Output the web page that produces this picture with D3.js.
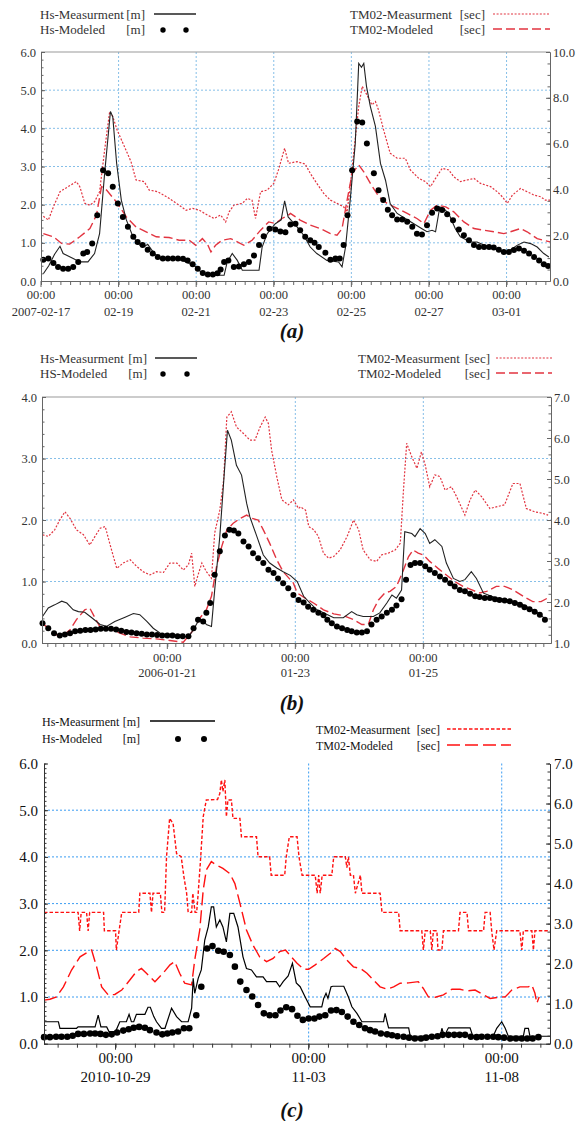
<!DOCTYPE html>
<html>
<head>
<meta charset="utf-8">
<script src="https://cdn.jsdelivr.net/npm/d3@7"></script>
<style>
body { margin: 0; background: #fff; }
svg text { font-family: "Liberation Serif", "Times New Roman", serif; }
</style>
</head>
<body>
<svg id="chart" width="580" height="1121"></svg>
<script>
// ---------- panel (a) : days since 2007-02-17 00:00 ----------
var aTickLabels = ["2007-02-17", "02-19", "02-21", "02-23", "02-25", "02-27", "03-01"];
var aHsTicks = [0, 1, 2, 3, 4, 5, 6];
var aTmTicks = [0, 2, 4, 6, 8, 10];
var aHsMeas = [[0.06,0.19],[0.2,0.4],[0.35,0.7],[0.49,0.91],[0.57,0.72],[0.83,0.59],[1.0,0.5],[1.21,0.5],[1.38,0.72],[1.51,1.24],[1.64,2.82],[1.79,4.44],[1.85,4.3],[1.95,3.08],[2.07,2.12],[2.2,1.6],[2.37,1.16],[2.54,0.94],[2.66,0.9],[2.75,0.96],[2.92,0.72],[3.09,0.59],[3.48,0.59],[3.74,0.5],[4.0,0.37],[4.16,0.19],[4.33,0.15],[4.72,0.15],[4.8,0.5],[4.93,0.72],[5.06,0.54],[5.19,0.28],[5.62,0.28],[5.7,0.89],[5.83,1.24],[6.04,1.5],[6.19,1.6],[6.28,2.1],[6.37,1.68],[6.6,1.42],[6.77,1.2],[6.94,0.89],[7.11,0.72],[7.37,0.54],[7.67,0.5],[7.76,0.37],[7.85,0.89],[7.97,2.12],[8.1,3.6],[8.19,5.7],[8.26,5.6],[8.32,5.7],[8.39,5.1],[8.49,4.57],[8.62,4.05],[8.75,3.08],[8.88,2.64],[9.0,2.03],[9.18,1.77],[9.39,1.64],[9.61,1.5],[9.82,1.37],[9.95,1.29],[10.08,1.33],[10.17,1.29],[10.28,1.94],[10.38,1.9],[10.51,1.77],[10.68,1.37],[10.81,1.16],[11.07,1.02],[11.24,1.02],[11.42,0.94],[11.59,0.89],[11.76,0.81],[12.02,0.76],[12.28,0.94],[12.45,1.02],[12.62,0.98],[12.79,0.89],[12.96,0.72],[13.09,0.63]];
var aHsModel = [[0.06,0.56],[0.19,0.59],[0.32,0.47],[0.44,0.37],[0.57,0.32],[0.7,0.32],[0.83,0.37],[0.96,0.5],[1.09,0.72],[1.19,0.76],[1.32,0.98],[1.45,1.72],[1.6,2.9],[1.73,2.82],[1.85,2.47],[1.98,2.03],[2.11,1.68],[2.24,1.42],[2.38,1.16],[2.49,1.02],[2.62,0.94],[2.75,0.82],[2.88,0.72],[3.01,0.63],[3.14,0.59],[3.27,0.59],[3.4,0.59],[3.53,0.59],[3.66,0.58],[3.78,0.54],[3.91,0.44],[4.04,0.32],[4.17,0.21],[4.3,0.17],[4.43,0.17],[4.55,0.2],[4.63,0.3],[4.72,0.5],[4.83,0.54],[4.97,0.37],[5.1,0.38],[5.23,0.44],[5.36,0.5],[5.49,0.67],[5.62,0.94],[5.74,1.17],[5.89,1.37],[6.04,1.35],[6.17,1.3],[6.3,1.28],[6.43,1.48],[6.56,1.5],[6.68,1.33],[6.81,1.16],[6.94,1.07],[7.05,1.0],[7.16,0.89],[7.33,0.74],[7.46,0.56],[7.59,0.59],[7.7,0.59],[7.8,0.94],[7.9,1.72],[8.02,2.9],[8.15,4.18],[8.28,4.15],[8.4,3.6],[8.58,2.82],[8.7,2.38],[8.82,2.12],[8.94,1.87],[9.05,1.72],[9.18,1.61],[9.31,1.61],[9.44,1.55],[9.57,1.42],[9.69,1.24],[9.82,1.22],[9.95,1.46],[10.08,1.79],[10.21,1.9],[10.34,1.86],[10.47,1.75],[10.62,1.59],[10.77,1.35],[10.9,1.2],[11.03,1.07],[11.16,0.94],[11.29,0.89],[11.42,0.89],[11.55,0.89],[11.67,0.88],[11.8,0.82],[11.93,0.76],[12.06,0.76],[12.19,0.81],[12.32,0.85],[12.45,0.79],[12.58,0.72],[12.71,0.63],[12.84,0.54],[12.96,0.44],[13.07,0.39]];
var aTmMeas = [[0.06,2.83],[0.19,2.66],[0.32,3.24],[0.49,3.9],[0.7,4.12],[0.91,4.34],[1.0,4.12],[1.13,3.39],[1.26,3.31],[1.38,3.46],[1.51,3.9],[1.64,5.72],[1.77,7.4],[1.85,7.18],[1.96,6.6],[2.15,5.87],[2.32,5.21],[2.45,4.41],[2.66,4.34],[2.79,3.97],[3.01,3.9],[3.3,3.61],[3.56,3.31],[3.74,3.09],[3.91,3.17],[4.08,3.09],[4.29,2.88],[4.46,2.73],[4.63,2.88],[4.76,2.58],[4.85,3.02],[4.97,3.31],[5.19,3.39],[5.32,3.61],[5.44,3.53],[5.53,2.73],[5.66,3.9],[5.83,3.97],[6.0,4.26],[6.12,4.85],[6.28,5.8],[6.38,5.14],[6.6,5.21],[6.81,5.11],[6.94,4.7],[7.11,4.26],[7.29,3.82],[7.46,3.53],[7.63,3.39],[7.8,3.24],[7.89,3.02],[7.97,4.12],[8.06,5.58],[8.19,7.62],[8.28,8.5],[8.4,8.13],[8.53,7.69],[8.62,7.84],[8.7,7.47],[8.83,6.6],[9.0,5.58],[9.18,5.36],[9.39,5.36],[9.52,4.85],[9.74,4.48],[9.91,4.34],[10.04,4.12],[10.17,4.48],[10.34,4.92],[10.51,4.85],[10.64,4.55],[10.81,4.34],[10.98,4.41],[11.16,4.48],[11.33,4.26],[11.59,4.12],[11.76,3.9],[11.89,3.68],[12.02,3.39],[12.15,3.75],[12.36,4.04],[12.53,3.9],[12.71,3.75],[12.88,3.68],[13.0,3.53],[13.12,3.53]];
var aTmModel = [[0.06,2.07],[0.32,1.93],[0.53,1.64],[0.74,1.61],[1.0,1.93],[1.26,2.29],[1.43,2.88],[1.56,4.12],[1.69,3.97],[1.94,3.46],[2.2,2.8],[2.45,2.36],[2.71,2.15],[2.97,1.93],[3.3,1.9],[3.56,1.78],[3.82,1.78],[3.99,1.56],[4.16,1.85],[4.29,1.61],[4.38,1.27],[4.5,1.56],[4.67,1.78],[4.89,1.85],[5.06,1.71],[5.23,1.56],[5.44,1.78],[5.66,2.22],[5.87,2.58],[6.04,2.51],[6.21,2.73],[6.38,2.88],[6.43,2.95],[6.68,2.66],[6.94,2.44],[7.2,2.29],[7.46,2.07],[7.63,2.0],[7.76,2.29],[7.89,3.53],[8.02,4.7],[8.19,5.07],[8.32,4.77],[8.49,4.26],[8.71,3.68],[8.92,3.39],[9.18,3.17],[9.44,2.95],[9.69,2.73],[9.87,2.51],[10.04,3.09],[10.21,3.31],[10.43,3.24],[10.64,3.02],[10.9,2.58],[11.16,2.29],[11.42,2.22],[11.67,2.15],[11.93,2.07],[12.1,2.15],[12.36,2.29],[12.53,2.15],[12.79,1.85],[13.12,1.71]];

// ---------- panel (b) : days since 2006-01-21 00:00 ----------
var bTickLabels = ["2006-01-21", "01-23", "01-25"];
var bHsTicks = [0, 1, 2, 3, 4];
var bTmTicks = [1, 2, 3, 4, 5, 6, 7];
var bHsMeas = [[-1.95,0.43],[-1.86,0.57],[-1.76,0.62],[-1.65,0.68],[-1.57,0.65],[-1.47,0.54],[-1.39,0.51],[-1.29,0.5],[-1.18,0.41],[-1.05,0.3],[-0.95,0.27],[-0.82,0.35],[-0.66,0.42],[-0.53,0.48],[-0.43,0.46],[-0.32,0.35],[-0.22,0.24],[-0.11,0.16],[0.04,0.12],[0.2,0.11],[0.33,0.1],[0.41,0.22],[0.48,0.35],[0.56,0.38],[0.61,0.3],[0.69,0.27],[0.74,0.86],[0.82,1.73],[0.89,2.76],[0.94,3.46],[1.0,3.3],[1.08,2.89],[1.16,2.73],[1.24,2.27],[1.29,2.05],[1.4,1.73],[1.5,1.43],[1.6,1.3],[1.71,1.22],[1.81,1.16],[1.92,1.1],[2.03,1.0],[2.13,0.76],[2.23,0.65],[2.34,0.54],[2.44,0.49],[2.6,0.41],[2.75,0.41],[2.88,0.51],[2.96,0.46],[3.06,0.43],[3.22,0.43],[3.32,0.49],[3.43,0.65],[3.51,0.78],[3.58,0.73],[3.66,0.86],[3.71,1.81],[3.82,1.78],[3.87,1.73],[3.95,1.86],[4.03,1.78],[4.1,1.62],[4.18,1.68],[4.29,1.57],[4.36,1.3],[4.47,1.05],[4.57,1.0],[4.65,1.03],[4.75,1.16],[4.83,1.05],[4.94,0.81],[5.14,0.73],[5.35,0.7],[5.56,0.62],[5.77,0.51],[5.92,0.38]];
var bHsModel = [[-1.95,0.32],[-1.86,0.24],[-1.77,0.16],[-1.68,0.12],[-1.6,0.14],[-1.52,0.16],[-1.44,0.19],[-1.36,0.2],[-1.28,0.21],[-1.2,0.21],[-1.12,0.22],[-1.04,0.23],[-0.96,0.23],[-0.88,0.23],[-0.8,0.22],[-0.72,0.2],[-0.64,0.18],[-0.56,0.17],[-0.48,0.16],[-0.4,0.15],[-0.32,0.14],[-0.24,0.14],[-0.16,0.13],[-0.08,0.12],[0.0,0.12],[0.08,0.12],[0.16,0.11],[0.24,0.11],[0.33,0.11],[0.41,0.24],[0.48,0.38],[0.56,0.35],[0.61,0.49],[0.67,0.65],[0.74,1.11],[0.82,1.49],[0.9,1.75],[0.97,1.84],[1.04,1.83],[1.11,1.78],[1.19,1.65],[1.27,1.57],[1.34,1.46],[1.42,1.38],[1.5,1.3],[1.58,1.19],[1.66,1.14],[1.73,1.05],[1.81,0.97],[1.89,0.89],[1.97,0.78],[2.05,0.7],[2.13,0.66],[2.2,0.59],[2.28,0.54],[2.36,0.49],[2.44,0.45],[2.5,0.38],[2.57,0.32],[2.65,0.27],[2.73,0.24],[2.81,0.21],[2.88,0.19],[2.96,0.17],[3.04,0.17],[3.12,0.19],[3.19,0.3],[3.27,0.38],[3.35,0.43],[3.43,0.49],[3.51,0.54],[3.58,0.61],[3.66,0.71],[3.73,1.03],[3.8,1.27],[3.87,1.3],[3.95,1.3],[4.03,1.25],[4.1,1.19],[4.18,1.14],[4.26,1.08],[4.34,1.03],[4.42,0.97],[4.49,0.92],[4.57,0.86],[4.65,0.84],[4.73,0.8],[4.81,0.76],[4.88,0.75],[4.96,0.73],[5.04,0.73],[5.12,0.71],[5.19,0.7],[5.27,0.69],[5.35,0.68],[5.43,0.65],[5.51,0.62],[5.58,0.58],[5.66,0.55],[5.74,0.51],[5.82,0.46],[5.9,0.38]];
var bTmMeas = [[-1.95,3.64],[-1.86,3.6],[-1.76,3.76],[-1.68,4.0],[-1.6,4.2],[-1.52,4.04],[-1.42,3.76],[-1.31,3.64],[-1.21,3.39],[-1.13,3.6],[-1.05,3.8],[-0.97,3.84],[-0.9,3.43],[-0.79,2.82],[-0.69,2.95],[-0.58,3.03],[-0.48,2.87],[-0.38,2.74],[-0.27,2.66],[-0.17,2.74],[-0.06,2.72],[0.04,2.95],[0.15,2.95],[0.25,2.78],[0.33,2.91],[0.38,3.19],[0.43,2.38],[0.48,2.66],[0.54,2.95],[0.61,2.74],[0.69,2.58],[0.74,3.68],[0.82,4.24],[0.88,4.97],[0.93,6.51],[1.0,6.64],[1.08,6.27],[1.19,6.11],[1.29,5.95],[1.37,5.95],[1.45,6.27],[1.53,6.51],[1.58,6.35],[1.63,5.7],[1.71,5.06],[1.79,4.49],[1.89,4.37],[1.97,4.49],[2.05,4.28],[2.08,4.32],[2.16,4.24],[2.21,3.84],[2.29,3.76],[2.36,3.6],[2.44,3.19],[2.52,3.07],[2.6,3.11],[2.7,3.27],[2.81,3.6],[2.91,4.0],[2.99,3.76],[3.06,3.27],[3.17,3.03],[3.27,2.99],[3.35,3.15],[3.45,3.19],[3.56,3.27],[3.64,3.43],[3.69,4.73],[3.74,5.87],[3.82,5.54],[3.9,5.26],[3.97,5.66],[4.03,5.34],[4.1,4.81],[4.18,5.1],[4.26,5.06],[4.34,4.73],[4.44,4.81],[4.52,4.57],[4.65,4.12],[4.73,4.49],[4.81,4.73],[4.91,4.57],[5.04,4.28],[5.14,4.32],[5.27,4.37],[5.32,4.57],[5.4,4.89],[5.51,4.89],[5.61,4.28],[5.74,4.2],[5.87,4.16],[5.95,4.12]];
var bTmModel = [[-1.95,1.49],[-1.84,1.32],[-1.73,1.2],[-1.63,1.18],[-1.52,1.32],[-1.42,1.57],[-1.29,1.81],[-1.21,1.85],[-1.13,1.61],[-1.05,1.39],[-0.9,1.34],[-0.74,1.24],[-0.58,1.15],[-0.38,1.12],[-0.17,1.1],[0.04,1.06],[0.25,1.02],[0.41,1.32],[0.51,1.61],[0.61,1.81],[0.69,2.14],[0.77,2.87],[0.85,3.35],[0.93,3.76],[1.03,3.92],[1.14,4.04],[1.24,4.12],[1.32,4.04],[1.42,4.0],[1.5,3.76],[1.6,3.43],[1.71,3.03],[1.81,2.74],[1.97,2.46],[2.03,2.22],[2.16,2.09],[2.29,1.97],[2.44,1.81],[2.6,1.71],[2.75,1.67],[2.91,1.57],[3.04,1.45],[3.14,1.45],[3.22,1.81],[3.3,2.05],[3.4,2.22],[3.48,2.26],[3.58,2.38],[3.69,2.78],[3.77,3.11],[3.84,3.27],[3.92,3.19],[4.0,3.15],[4.1,2.99],[4.23,2.82],[4.36,2.66],[4.49,2.5],[4.62,2.38],[4.75,2.3],[4.88,2.22],[4.99,2.26],[5.14,2.38],[5.27,2.38],[5.4,2.3],[5.56,2.14],[5.71,2.01],[5.84,2.01],[5.97,2.12]];

// ---------- panel (c) : days since 2010-10-29 00:00 ----------
var cTickLabels = ["2010-10-29", "11-03", "11-08"];
var cHsTicks = [0, 1, 2, 3, 4, 5, 6];
var cTmTicks = [0, 1, 2, 3, 4, 5, 6, 7];
var cHsMeas = [[-1.853,0.47],[-1.48,0.47],[-1.44,0.33],[-1.01,0.33],[-0.97,0.36],[-0.53,0.36],[-0.45,0.61],[-0.38,0.36],[-0.23,0.36],[-0.17,0.26],[0.0,0.26],[0.11,0.47],[0.28,0.47],[0.35,0.63],[0.41,0.47],[0.47,0.47],[0.54,0.63],[0.76,0.63],[0.84,0.78],[0.9,0.78],[0.99,0.58],[1.06,0.47],[1.19,0.33],[1.28,0.33],[1.45,0.76],[1.58,0.58],[1.71,0.47],[1.88,0.47],[1.97,0.76],[2.01,1.4],[2.05,1.08],[2.14,1.4],[2.22,1.58],[2.31,2.22],[2.4,2.5],[2.48,2.93],[2.54,2.93],[2.61,2.5],[2.7,2.65],[2.78,2.5],[2.87,2.18],[2.96,2.79],[3.06,2.79],[3.17,2.5],[3.3,1.86],[3.39,1.61],[3.52,1.58],[3.65,1.43],[3.82,1.43],[3.91,1.33],[4.16,1.33],[4.25,1.22],[4.34,1.33],[4.47,1.45],[4.58,1.72],[4.68,1.3],[4.78,1.22],[4.91,1.0],[5.04,0.79],[5.34,0.79],[5.39,0.97],[5.45,1.08],[5.5,0.97],[5.58,1.22],[5.63,1.23],[5.91,1.23],[6.03,1.0],[6.12,0.79],[6.25,0.65],[6.38,0.47],[6.94,0.47],[6.98,0.65],[7.03,0.47],[7.07,0.34],[7.59,0.34],[7.63,0.16],[8.41,0.16],[8.45,0.33],[8.51,0.16],[8.62,0.34],[9.18,0.34],[9.25,0.16],[9.78,0.16],[9.87,0.33],[10.0,0.47],[10.09,0.33],[10.17,0.16],[10.56,0.16],[10.6,0.33],[10.69,0.33],[10.73,0.16],[11.25,0.16]];
var cHsModel = [[-1.85,0.14],[-1.7,0.14],[-1.54,0.15],[-1.4,0.15],[-1.25,0.15],[-1.11,0.17],[-0.97,0.21],[-0.82,0.21],[-0.66,0.22],[-0.53,0.22],[-0.39,0.21],[-0.25,0.19],[-0.1,0.2],[0.04,0.24],[0.2,0.28],[0.34,0.31],[0.47,0.34],[0.61,0.36],[0.76,0.34],[0.89,0.29],[1.06,0.24],[1.21,0.2],[1.34,0.22],[1.47,0.24],[1.62,0.26],[1.77,0.33],[1.91,0.33],[2.09,0.61],[2.22,1.22],[2.37,2.04],[2.51,2.09],[2.66,1.99],[2.8,1.97],[2.96,1.9],[3.09,1.65],[3.23,1.33],[3.39,1.15],[3.54,1.01],[3.69,0.83],[3.84,0.65],[3.99,0.61],[4.14,0.61],[4.27,0.71],[4.42,0.78],[4.57,0.74],[4.71,0.6],[4.85,0.51],[5.0,0.54],[5.15,0.54],[5.28,0.58],[5.43,0.61],[5.58,0.71],[5.72,0.72],[5.86,0.68],[6.01,0.58],[6.16,0.47],[6.31,0.4],[6.46,0.33],[6.59,0.29],[6.72,0.26],[6.87,0.22],[7.03,0.2],[7.16,0.18],[7.3,0.16],[7.46,0.15],[7.6,0.13],[7.75,0.11],[7.91,0.11],[8.04,0.13],[8.19,0.15],[8.34,0.16],[8.47,0.19],[8.62,0.19],[8.77,0.19],[8.91,0.19],[9.05,0.19],[9.2,0.15],[9.35,0.14],[9.48,0.15],[9.63,0.15],[9.78,0.15],[9.91,0.14],[10.06,0.13],[10.22,0.11],[10.37,0.11],[10.52,0.11],[10.66,0.11],[10.8,0.11],[10.95,0.14]];
var cTmMeas = [[-1.853,3.28],[-0.97,3.28],[-0.93,2.82],[-0.89,3.28],[-0.75,3.28],[-0.71,2.82],[-0.67,3.28],[-0.31,3.28],[-0.29,2.82],[0.0,2.82],[0.02,2.34],[0.16,3.28],[0.6,3.28],[0.63,3.76],[0.89,3.76],[0.93,3.28],[0.97,3.76],[1.16,3.76],[1.2,3.28],[1.27,3.28],[1.32,4.67],[1.4,5.63],[1.49,5.5],[1.58,4.75],[1.7,4.67],[1.77,4.17],[1.84,3.76],[1.88,3.28],[1.97,3.28],[2.0,3.76],[2.06,3.28],[2.1,3.28],[2.14,3.76],[2.2,4.59],[2.27,5.67],[2.35,6.09],[2.64,6.1],[2.7,6.25],[2.74,6.59],[2.78,6.3],[2.83,6.59],[2.87,5.67],[2.91,6.09],[3.0,6.09],[3.04,5.63],[3.22,5.63],[3.26,5.17],[3.65,5.17],[3.69,4.67],[3.99,4.67],[4.03,4.21],[4.38,4.21],[4.42,4.67],[4.5,5.17],[4.7,5.17],[4.75,4.67],[4.83,4.21],[5.17,4.21],[5.22,3.76],[5.26,4.21],[5.3,3.76],[5.35,4.21],[5.6,4.21],[5.65,4.67],[5.95,4.67],[5.99,4.4],[6.03,4.67],[6.08,4.21],[6.16,4.21],[6.21,3.76],[6.34,4.21],[6.38,3.76],[6.85,3.76],[6.9,3.28],[7.33,3.28],[7.37,2.82],[7.93,2.82],[7.97,2.34],[8.02,2.82],[8.15,2.82],[8.19,2.34],[8.23,2.82],[8.32,2.82],[8.35,2.34],[8.45,2.34],[8.49,2.82],[8.88,2.82],[8.92,3.28],[9.1,3.28],[9.14,2.82],[9.53,2.82],[9.57,3.28],[9.7,3.28],[9.74,2.82],[9.8,2.34],[9.87,2.82],[10.47,2.82],[10.52,2.34],[10.56,2.82],[10.78,2.82],[10.82,2.34],[10.86,2.82],[11.25,2.82]];
var cTmModel = [[-1.85,1.09],[-1.7,1.11],[-1.53,1.17],[-1.35,1.42],[-1.14,1.84],[-0.92,2.17],[-0.75,2.27],[-0.62,2.34],[-0.49,1.92],[-0.36,1.42],[-0.19,1.22],[-0.02,1.23],[0.16,1.34],[0.37,1.59],[0.54,1.8],[0.67,1.88],[0.8,1.76],[1.02,1.55],[1.23,1.76],[1.41,1.97],[1.53,2.05],[1.66,1.76],[1.79,1.51],[1.97,1.47],[2.05,2.09],[2.18,2.84],[2.27,3.84],[2.35,4.34],[2.48,4.55],[2.61,4.46],[2.78,4.38],[2.96,4.25],[3.09,4.0],[3.22,3.51],[3.39,2.84],[3.56,2.46],[3.73,2.17],[3.91,2.05],[4.08,2.13],[4.25,2.3],[4.4,2.34],[4.55,2.17],[4.7,2.01],[4.87,1.86],[5.0,1.86],[5.17,1.97],[5.39,2.13],[5.56,2.26],[5.69,2.38],[5.82,2.3],[5.99,2.09],[6.16,1.92],[6.34,1.88],[6.51,1.76],[6.68,1.59],[6.85,1.42],[7.03,1.36],[7.2,1.42],[7.37,1.51],[7.59,1.52],[7.84,1.55],[7.97,1.38],[8.1,1.17],[8.28,1.16],[8.49,1.22],[8.71,1.36],[8.92,1.36],[9.09,1.32],[9.31,1.34],[9.53,1.22],[9.7,1.13],[9.91,1.16],[10.09,1.17],[10.26,1.34],[10.47,1.42],[10.69,1.42],[10.78,1.47],[10.86,1.26],[10.91,1.01],[10.97,1.17]];

var svg = d3.select("#chart");
var serif = "Liberation Serif, Times New Roman, serif";
var parseDay = d3.utcParse("%Y-%m-%d");

function dayDate(origin, d) {
    return new Date(origin.getTime() + d * 864e5);
}

function drawPanel(p) {
    var g = svg.append("g");
    var origin = parseDay(p.tickLabels[0]);
    var year = p.tickLabels[0].slice(0, 4);
    var tickDates = p.tickLabels.map(function(l) {
        return l.length > 5 ? parseDay(l) : parseDay(year + "-" + l);
    });

    var x = d3.scaleUtc()
        .domain([dayDate(origin, p.days[0]), dayDate(origin, p.days[1])])
        .range([p.left, p.right]);
    var yL = d3.scaleLinear()
        .domain([p.hsTicks[0], p.hsTicks[p.hsTicks.length - 1]])
        .range([p.bottom, p.top]);
    var yR = d3.scaleLinear()
        .domain([p.tmTicks[0], p.tmTicks[p.tmTicks.length - 1]])
        .range([p.bottom, p.top]);
    var px = function(d) { return x(dayDate(origin, d[0])); };

    // grid
    g.selectAll(null).data(p.hsTicks.slice(1, -1)).enter().append("line")
        .attr("x1", p.left).attr("x2", p.right)
        .attr("y1", function(d) { return yL(d); })
        .attr("y2", function(d) { return yL(d); })
        .attr("stroke", p.gridColor).attr("stroke-width", 1)
        .attr("stroke-dasharray", "2,2");
    g.selectAll(null).data(tickDates.slice(1)).enter().append("line")
        .attr("x1", function(d) { return x(d); })
        .attr("x2", function(d) { return x(d); })
        .attr("y1", p.top).attr("y2", p.bottom)
        .attr("stroke", p.gridColor).attr("stroke-width", 1)
        .attr("stroke-dasharray", "2,2");

    if (p.topBorder) {
        g.append("line")
            .attr("x1", p.left).attr("x2", p.right)
            .attr("y1", p.top).attr("y2", p.top)
            .attr("stroke", "#999");
    }

    // series
    var lineT = d3.line().x(px).y(function(d) { return yR(d[1]); });
    var lineH = d3.line().x(px).y(function(d) { return yL(d[1]); });

    g.append("path").datum(p.tmMeas).attr("d", lineT)
        .attr("fill", "none").attr("stroke", p.red)
        .attr("stroke-width", p.measWidth).attr("stroke-dasharray", p.measDash);
    g.append("path").datum(p.tmModel).attr("d", lineT)
        .attr("fill", "none").attr("stroke", p.red)
        .attr("stroke-width", p.modelWidth).attr("stroke-dasharray", p.modelDash);
    g.append("path").datum(p.hsMeas).attr("d", lineH)
        .attr("fill", "none").attr("stroke", p.black)
        .attr("stroke-width", p.hsWidth);
    g.selectAll(null).data(p.hsModel).enter().append("circle")
        .attr("cx", px)
        .attr("cy", function(d) { return yL(d[1]); })
        .attr("r", p.dotR).attr("fill", "#000");

    // axes
    var fmt = d3.format(".1f");
    function styleAxis(sel) {
        sel.attr("font-family", serif);
        sel.select(".domain").attr("stroke", p.axisColor);
        sel.selectAll(".tick line").attr("stroke", p.axisColor);
        sel.selectAll("text")
            .attr("font-family", serif)
            .attr("font-size", p.fontSize)
            .attr("fill", p.textColor);
    }

    g.append("g").attr("transform", "translate(0," + p.bottom + ")")
        .call(d3.axisBottom(x).ticks(d3.utcHour.every(p.minorHours))
            .tickSize(4).tickSizeOuter(0).tickFormat(""))
        .call(styleAxis);

    g.append("g").attr("transform", "translate(" + p.left + ",0)")
        .call(d3.axisLeft(yL).tickValues(d3.range(p.hsTicks[0], p.hsTicks[p.hsTicks.length - 1] + 1e-6, p.hsMinor))
            .tickSize(-2.5).tickSizeOuter(0).tickFormat(""))
        .call(styleAxis);
    g.append("g").attr("transform", "translate(" + p.left + ",0)")
        .call(d3.axisLeft(yL).tickValues(p.hsTicks).tickSize(-4).tickSizeOuter(0)
            .tickPadding(p.leftPad).tickFormat(fmt))
        .call(styleAxis);

    g.append("g").attr("transform", "translate(" + p.right + ",0)")
        .call(d3.axisRight(yR).tickValues(d3.range(p.tmTicks[0], p.tmTicks[p.tmTicks.length - 1] + 1e-6, p.tmMinor))
            .tickSize(-2.5).tickSizeOuter(0).tickFormat(""))
        .call(styleAxis);
    g.append("g").attr("transform", "translate(" + p.right + ",0)")
        .call(d3.axisRight(yR).tickValues(p.tmTicks).tickSize(-4).tickSizeOuter(0)
            .tickPadding(p.rightPad).tickFormat(fmt))
        .call(styleAxis);

    // date labels
    var lab = g.selectAll(null).data(tickDates).enter().append("g")
        .attr("transform", function(d) { return "translate(" + x(d) + "," + p.bottom + ")"; });
    lab.append("line").attr("y1", 0).attr("y2", 6).attr("stroke", p.axisColor);
    lab.append("text").text("00:00")
        .attr("y", p.labelDy[0]).attr("text-anchor", "middle").attr("font-family", serif)
        .attr("font-size", p.fontSize).attr("fill", p.textColor);
    lab.append("text").text(function(d, i) { return p.tickLabels[i]; })
        .attr("y", p.labelDy[1]).attr("text-anchor", "middle").attr("font-family", serif)
        .attr("font-size", p.fontSize).attr("fill", p.textColor);

    // caption
    svg.append("text").text(p.caption)
        .attr("x", 292).attr("y", p.captionY)
        .attr("text-anchor", "middle").attr("font-family", serif)
        .attr("font-size", 21).attr("font-weight", "bold").attr("font-style", "italic")
        .attr("fill", "#111");

    // legend
    var L = p.legend;
    var lg = svg.append("g").attr("font-size", L.fontSize).attr("font-family", serif).attr("fill", p.textColor);
    var rows = [
        {name: L.names[0], unit: "[m]", x: L.leftX, unitX: L.leftUnitX, y: L.rows[0]},
        {name: L.names[1], unit: "[m]", x: L.leftX, unitX: L.leftUnitX, y: L.rows[1]},
        {name: L.names[2], unit: "[sec]", x: L.rightX, unitX: L.rightUnitX, y: L.rows[2]},
        {name: L.names[3], unit: "[sec]", x: L.rightX, unitX: L.rightUnitX, y: L.rows[3]}
    ];
    rows.forEach(function(r) {
        lg.append("text").text(r.name).attr("x", r.x).attr("y", r.y + L.fontSize * 0.33);
        lg.append("text").text(r.unit).attr("x", r.unitX).attr("y", r.y + L.fontSize * 0.33)
            .attr("text-anchor", "end");
    });
    lg.append("line").attr("x1", L.hsLine[0]).attr("x2", L.hsLine[1])
        .attr("y1", L.rows[0] - 1).attr("y2", L.rows[0] - 1)
        .attr("stroke", p.black).attr("stroke-width", p.hsWidth + 0.2);
    L.dots.forEach(function(dx) {
        lg.append("circle").attr("cx", dx).attr("cy", L.rows[1]).attr("r", p.dotR - 0.3).attr("fill", "#000");
    });
    lg.append("line").attr("x1", L.tmLine[0]).attr("x2", L.tmLine[1])
        .attr("y1", L.rows[2] - 1).attr("y2", L.rows[2] - 1)
        .attr("stroke", p.red).attr("stroke-width", p.measWidth).attr("stroke-dasharray", p.measDash);
    lg.append("line").attr("x1", L.tmLine[0]).attr("x2", L.tmLine[1])
        .attr("y1", L.rows[3] - 1).attr("y2", L.rows[3] - 1)
        .attr("stroke", p.red).attr("stroke-width", p.modelWidth).attr("stroke-dasharray", p.modelDash);
}

drawPanel({
    caption: "(a)", captionY: 338,
    tickLabels: aTickLabels, hsTicks: aHsTicks, tmTicks: aTmTicks,
    hsMeas: aHsMeas, hsModel: aHsModel, tmMeas: aTmMeas, tmModel: aTmModel,
    days: [0, 13.12], left: 41, right: 550, top: 52, bottom: 281,
    minorHours: 6, hsMinor: 0.2, tmMinor: 0.5,
    topBorder: true, gridColor: "#86bfe8", axisColor: "#666", textColor: "#333",
    red: "#e23440", black: "#222", fontSize: 12.5, leftPad: 5, rightPad: 3,
    hsWidth: 1.1, measWidth: 1.2, measDash: "2,1.6", modelWidth: 1.4, modelDash: "9,4", dotR: 3,
    labelDy: [18, 35],
    legend: {
        fontSize: 13, rows: [15, 30, 15, 30],
        names: ["Hs-Measurment", "Hs-Modeled", "TM02-Measurment", "TM02-Modeled"],
        leftX: 40, leftUnitX: 145, rightX: 350, rightUnitX: 485,
        hsLine: [154, 196], dots: [163, 186], tmLine: [493, 550]
    }
});

drawPanel({
    caption: "(b)", captionY: 710,
    tickLabels: bTickLabels, hsTicks: bHsTicks, tmTicks: bTmTicks,
    hsMeas: bHsMeas, hsModel: bHsModel, tmMeas: bTmMeas, tmModel: bTmModel,
    days: [-1.958, 5.995], left: 42, right: 551, top: 397, bottom: 643,
    minorHours: 3, hsMinor: 0.2, tmMinor: 0.2,
    topBorder: true, gridColor: "#86bfe8", axisColor: "#666", textColor: "#333",
    red: "#e23440", black: "#222", fontSize: 12.5, leftPad: 5, rightPad: 3,
    hsWidth: 1.1, measWidth: 1.2, measDash: "2,1.6", modelWidth: 1.4, modelDash: "9,4", dotR: 3,
    labelDy: [19, 34],
    legend: {
        fontSize: 13, rows: [359, 374, 359, 374],
        names: ["Hs-Measurment", "HS-Modeled", "TM02-Measurment", "TM02-Modeled"],
        leftX: 40, leftUnitX: 147, rightX: 358, rightUnitX: 490,
        hsLine: [155, 197], dots: [163, 187], tmLine: [496, 552]
    }
});

drawPanel({
    caption: "(c)", captionY: 1117,
    tickLabels: cTickLabels, hsTicks: cHsTicks, tmTicks: cTmTicks,
    hsMeas: cHsMeas, hsModel: cHsModel, tmMeas: cTmMeas, tmModel: cTmModel,
    days: [-1.853, 11.25], left: 44, right: 550, top: 763.5, bottom: 1043.7,
    minorHours: 12, hsMinor: 0.1, tmMinor: 0.2,
    topBorder: false, gridColor: "#3a9cf2", axisColor: "#333", textColor: "#111",
    red: "#ff1010", black: "#000", fontSize: 15, leftPad: 6, rightPad: 4,
    hsWidth: 1.2, measWidth: 1.4, measDash: "3.5,2", modelWidth: 1.4, modelDash: "13,5", dotR: 3.3,
    labelDy: [19.5, 38.5],
    legend: {
        fontSize: 12, rows: [722, 739, 730, 746],
        names: ["Hs-Measurment", "Hs-Modeled", "TM02-Measurment", "TM02-Modeled"],
        leftX: 42, leftUnitX: 140, rightX: 316, rightUnitX: 440,
        hsLine: [150, 215], dots: [178, 204], tmLine: [447, 511]
    }
});
</script>
</body>
</html>
